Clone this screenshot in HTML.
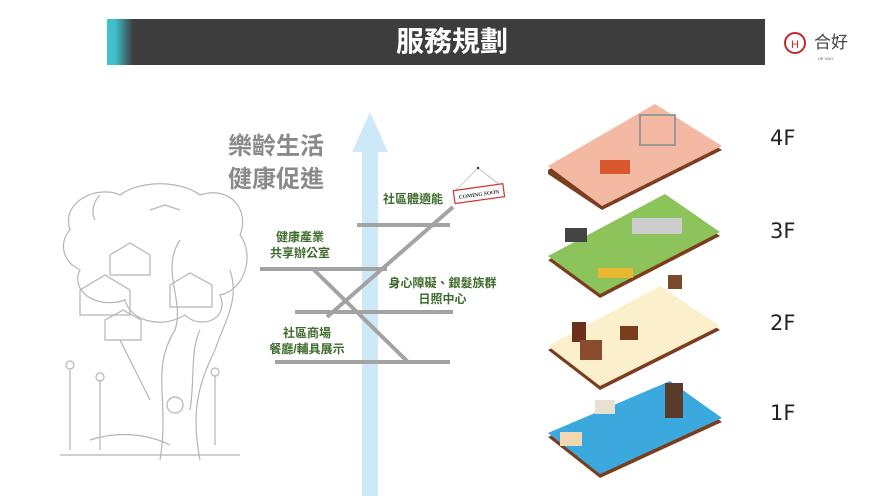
<!DOCTYPE html>
<html><head><meta charset="utf-8"><style>
body{margin:0;width:885px;height:496px;background:#fff;overflow:hidden;position:relative;font-family:"Liberation Sans","Noto Sans CJK TC",sans-serif}
.t{position:absolute;white-space:nowrap;font-weight:bold}
.g{color:#3d6b2b;font-size:12px;text-align:center;line-height:16px}
</style></head><body>
<div style="position:absolute;left:107px;top:19px;width:658px;height:46px;background:linear-gradient(90deg,#3fc0cc 0,#3fc0cc 8px,#3d3d3d 26px,#3d3d3d)"></div>
<div class="t" style="left:352px;top:22px;width:200px;text-align:center;color:#fff;font-size:28px;line-height:40px">服務規劃</div>
<svg style="position:absolute;left:0;top:0" width="885" height="496">
<circle cx="795" cy="43" r="10" fill="none" stroke="#c0282d" stroke-width="2"/>
<text x="791" y="48" font-size="11" fill="#c0282d" font-family="Liberation Sans">H</text>
<text x="814" y="48" font-size="17" fill="#444" font-family="Noto Sans CJK TC">合好</text>
<text x="818" y="60" font-size="4" fill="#666">HE HAO</text>
<!-- tree sketch -->
<g fill="none" stroke="#b5b5b5" stroke-width="1.2">
<path d="M160 460 C170 400 150 370 175 330 C185 300 160 270 180 240 M200 460 C190 410 200 380 215 350 C225 320 240 300 230 270"/>
<path d="M70 230 C60 200 100 185 120 195 C140 180 180 180 200 195 C230 185 250 210 240 235 C255 255 245 290 220 295 C230 320 200 330 185 315 C160 330 130 320 125 300 C95 310 70 290 80 270 C60 260 60 240 70 230Z"/>
<path d="M80 290 l25 -15 l25 15 v25 h-50z M110 255 l20 -12 l20 12 v20 h-40z M170 285 l20 -12 l22 12 v22 h-42z M105 320 l18 -10 l18 10 v20 h-36z"/>
<path d="M95 220 C90 210 95 200 100 195 M150 210 l15 -5 l15 5 M70 370 v80 M100 380 v70 M215 375 v70 M60 455 h180 M90 440 c30 -10 60 -5 80 5"/>
<circle cx="70" cy="365" r="4"/><circle cx="100" cy="377" r="4"/><circle cx="215" cy="372" r="4"/><circle cx="175" cy="405" r="8"/>
<path d="M120 340 C130 360 140 380 150 400 M200 330 C190 350 195 380 190 410"/>
</g>
<!-- arrow -->
<rect x="362" y="150" width="16" height="346" fill="#cde9f8"/>
<polygon points="370,112 388,152 352,152" fill="#cde9f8"/>
<!-- lines -->
<g stroke="#a3a3a3" stroke-width="4" stroke-linecap="butt">
<line x1="357" y1="225" x2="450" y2="225"/>
<line x1="260" y1="269" x2="387" y2="269"/>
<line x1="295" y1="312" x2="453" y2="312"/>
<line x1="275" y1="362" x2="450" y2="362"/>
<line x1="327" y1="317" x2="453" y2="207"/>
<line x1="313" y1="269" x2="408" y2="362"/>
</g>
<!-- coming soon -->
<g>
<line x1="478" y1="168" x2="456" y2="190" stroke="#bbb" stroke-width="0.8"/>
<line x1="478" y1="168" x2="500" y2="185" stroke="#bbb" stroke-width="0.8"/>
<circle cx="478" cy="168" r="1.2" fill="#333"/>
<g transform="rotate(-8 480 194)">
<rect x="454" y="187" width="50" height="13" fill="#fff" stroke="#c33" stroke-width="1.2"/>
<text x="479" y="196" font-size="5.5" text-anchor="middle" font-family="Liberation Serif" font-weight="bold" fill="#333">COMING SOON</text>
</g></g>
<!-- floors -->
<g>
<polygon points="548,170 655,108 722,150 602,210 548,174" fill="#7a3e1f"/>
<polygon points="548,166 655,104 722,146 602,206" fill="#f4b9a3"/>
<rect x="640" y="115" width="35" height="30" fill="none" stroke="#999" stroke-width="2"/>
<rect x="600" y="160" width="30" height="14" fill="#d9572c"/>
<polygon points="548,260 665,198 720,236 600,298" fill="#7a3e1f"/>
<polygon points="548,256 665,194 720,232 600,294" fill="#8dc35b"/>
<rect x="565" y="228" width="22" height="14" fill="#444"/>
<rect x="632" y="218" width="50" height="16" fill="#ccc"/>
<rect x="598" y="268" width="35" height="10" fill="#e8b830"/>
<polygon points="548,350 660,290 720,330 600,390" fill="#7a3e1f"/>
<polygon points="548,346 660,286 720,326 600,386" fill="#fcf0cc"/>
<rect x="572" y="322" width="14" height="20" fill="#6b2f1a"/>
<rect x="580" y="340" width="22" height="20" fill="#8a4a2e"/>
<rect x="620" y="326" width="18" height="14" fill="#7a3e1f"/>
<rect x="668" y="275" width="14" height="14" fill="#7a4a2a"/>
<polygon points="548,437 670,385 722,422 600,478" fill="#7a3e1f"/>
<polygon points="548,433 670,381 722,418 600,474" fill="#3ba8de"/>
<rect x="665" y="383" width="18" height="35" fill="#5a3a2a"/>
<rect x="560" y="432" width="22" height="14" fill="#f0d8b0"/>
<rect x="595" y="400" width="20" height="14" fill="#e8e0d0"/>
</g>
<g font-size="21" font-family="DejaVu Sans" fill="#222">
<text x="770" y="145">4F</text><text x="770" y="238">3F</text><text x="770" y="330">2F</text><text x="770" y="420">1F</text>
</g>
</svg>
<div class="t" style="left:228px;top:130px;color:#8a8a8a;font-size:24px;line-height:33px">樂齡生活<br>健康促進</div>
<div class="t g" style="left:378px;top:191px;width:70px">社區體適能</div>
<div class="t g" style="left:260px;top:229px;width:80px">健康產業<br>共享辦公室</div>
<div class="t g" style="left:385px;top:275px;width:115px">身心障礙、銀髮族群<br>日照中心</div>
<div class="t g" style="left:262px;top:325px;width:90px">社區商場<br>餐廳/輔具展示</div>
</body></html>
